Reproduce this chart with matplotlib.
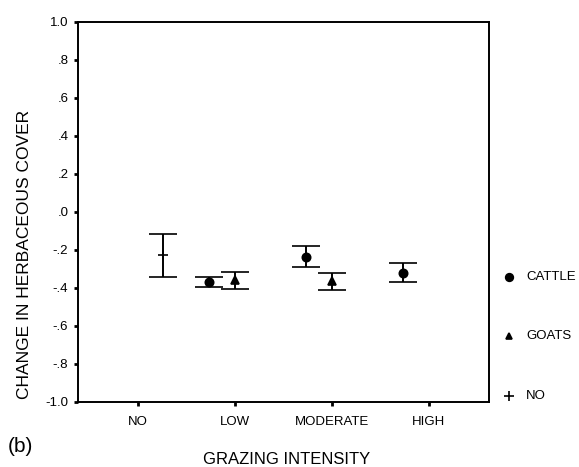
import numpy as np
import matplotlib
matplotlib.use("Agg")
import matplotlib.pyplot as plt

plt.rcParams['font.family'] = ['Liberation Sans', 'DejaVu Sans']

# grazing intensity categories
intensity = ["NO", "LOW", "MODERATE", "HIGH"]

# herbivore groups: position index, mean, lower, upper
no_pos = [0]
no_mean = [-0.228]
no_low = [-0.342]
no_high = [-0.117]

cattle_pos = [1, 2, 3]
cattle_mean = [-0.367, -0.235, -0.321]
cattle_low = [-0.397, -0.291, -0.367]
cattle_high = [-0.342, -0.179, -0.267]

goats_pos = [1, 2]
goats_mean = [-0.356, -0.363]
goats_low = [-0.405, -0.409]
goats_high = [-0.317, -0.323]

yticks = [1.0, 0.8, 0.6, 0.4, 0.2, 0.0, -0.2, -0.4, -0.6, -0.8, -1.0]
ytick_labels = ["1.0", ".8", ".6", ".4", ".2", ".0", "-.2", "-.4", "-.6", "-.8", "-1.0"]

fig = plt.figure(figsize=(5.79, 4.67), dpi=100)
ax = fig.add_axes([78/579, 1-402/467, (489-78)/579, (402-22)/467])

def draw(pos, mean, lo, hi, offset, marker, ms):
    x = np.array(pos) + offset
    m = np.array(mean)
    yerr = [m - np.array(lo), np.array(hi) - m]
    ax.errorbar(x, m, yerr=yerr, fmt=marker, color='black', ms=ms,
                capsize=10, capthick=1.6, elinewidth=1.4, mew=1.2)

draw(cattle_pos, cattle_mean, cattle_low, cattle_high, -0.27, 'o', 6)
draw(goats_pos, goats_mean, goats_low, goats_high, 0.0, '^', 5.5)
draw(no_pos, no_mean, no_low, no_high, 0.26, '+', 7)

ax.set_xlim(-0.62, 3.62)
ax.set_ylim(-1.0, 1.0)
ax.set_xticks(range(len(intensity)))
ax.set_xticklabels(intensity, fontsize=9.5)
ax.set_yticks(yticks)
ax.set_yticklabels(ytick_labels, fontsize=9.5)
ax.tick_params(axis='both', length=3, width=2, direction='out', pad=4)
ax.tick_params(axis='x', pad=7)
for s in ax.spines.values():
    s.set_linewidth(1.4)

fig.text(25/579, 1-254/467, "CHANGE IN HERBACEOUS COVER", fontsize=12.5,
         rotation=90, ha='center', va='center')
fig.text(287/579, 1-459/467, "GRAZING INTENSITY", fontsize=12, ha='center', va='center')
fig.text(8/579, 1-447/467, "(b)", fontsize=15, ha='left', va='center')

# legend outside on the right
leg_items = [("CATTLE", 'o', 5.5, 277), ("GOATS", '^', 5, 336), ("NO", '+', 7, 396)]
for label, mk, ms, ypix in leg_items:
    fig.lines.append(matplotlib.lines.Line2D([509/579], [1-ypix/467], marker=mk, color='black',
                                             ms=ms, mew=1.2, linestyle='none',
                                             transform=fig.transFigure))
    fig.text(526/579, 1-ypix/467, label, fontsize=9.5, ha='left', va='center')

fig.savefig("out.png", dpi=100)
